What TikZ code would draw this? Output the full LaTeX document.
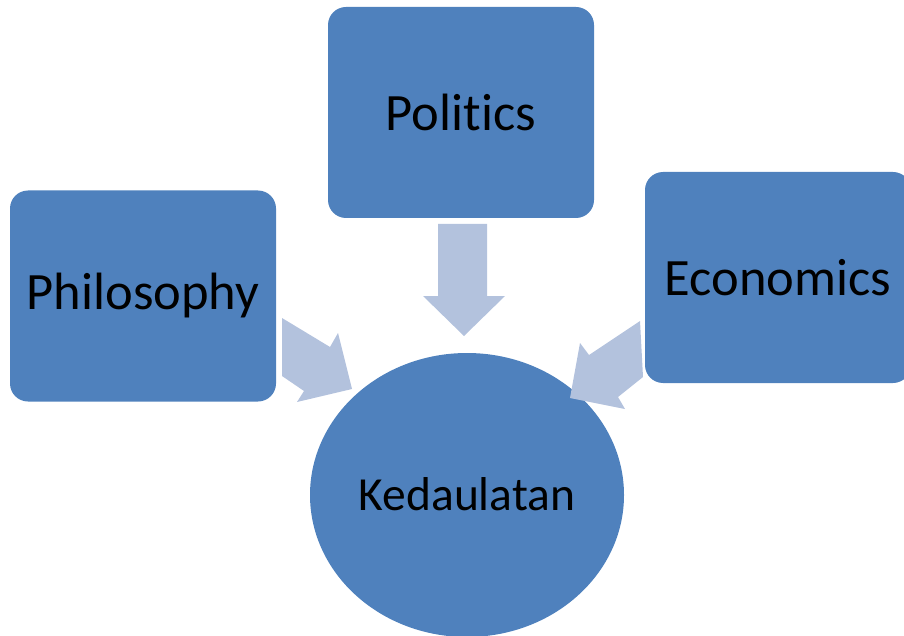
\documentclass[tikz,border=0pt]{standalone}
\usepackage{fontspec}
\setmainfont[Ligatures=NoCommon]{Carlito}
\definecolor{boxblue}{HTML}{4F81BD}
\definecolor{arrowblue}{HTML}{B3C2DD}
\begin{document}
\begin{tikzpicture}[x=1pt,y=-1pt,
  topic/.style={fill=boxblue,draw=none,rounded corners=18pt,minimum width=266pt,minimum height=211pt,inner sep=0pt,text=black,font=\fontsize{52.5}{60}\selectfont},
  flow/.style={fill=arrowblue,draw=none}]
\useasboundingbox (0,0) rectangle (904,636);
\clip (0,0) rectangle (904,636);
\node[topic] (phil) at (143,296) {Philosophy};
\node[topic] (pol) at (461,112.5) {Politics};
\node[topic] (eco) at (778,277.5) {Economics};
\path[fill=boxblue] (467,495) ellipse [x radius=157, y radius=142];
\node[text=black,font=\fontsize{47.5}{55}\selectfont] (ked) at (467,494) {Kedaulatan};
% arrows
\fill[flow] (438,224) -- (487,224) -- (487,296) -- (505,296) -- (464,336) -- (423,296) -- (438,296) -- cycle;
\fill[flow] (282,318) -- (330,347) -- (338,333) -- (352,389) -- (297,402) -- (304,391) -- (282,376) -- cycle;
\fill[flow] (640,321) -- (589,355) -- (580,343) -- (570,398) -- (625,409) -- (618,397) -- (643,377) -- cycle;
\end{tikzpicture}
\end{document}
